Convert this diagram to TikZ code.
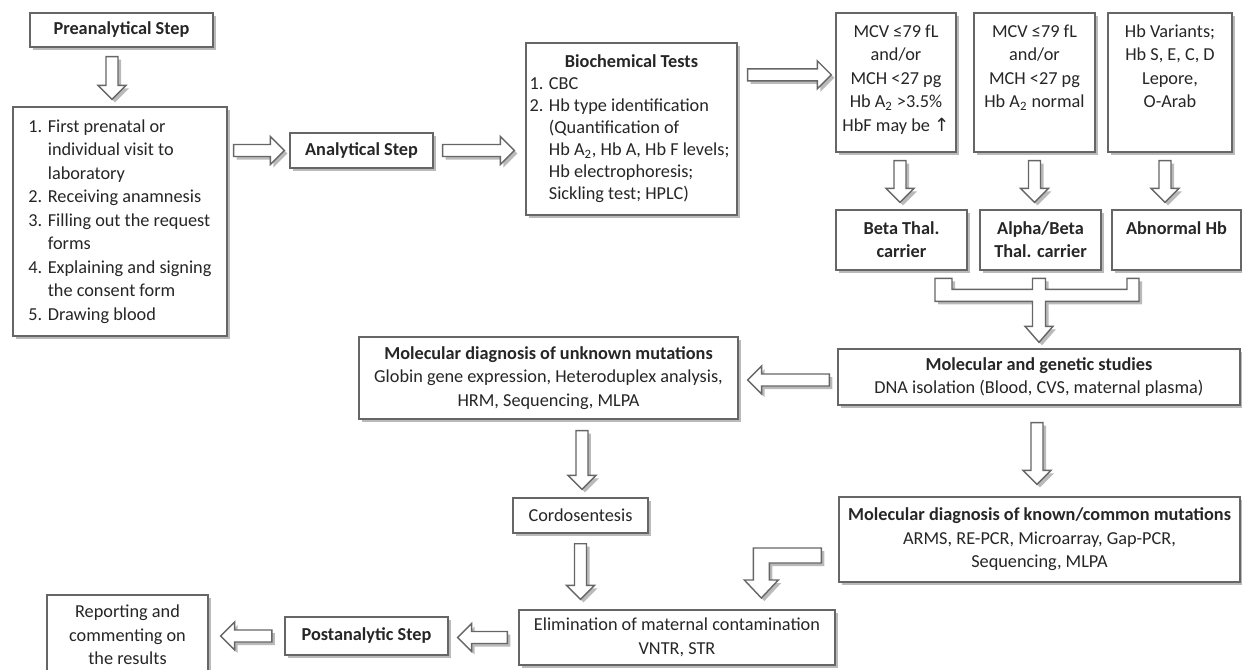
\documentclass[tikz,border=0pt]{standalone}
\usepackage{fontspec}
\setmainfont{Carlito}
\newfontfamily\symf{DejaVu Sans}
\usetikzlibrary{calc,shadows}

\begin{document}
\begin{tikzpicture}[x=0.02cm,y=-0.02cm,
  stepbox/.style={draw=black!60,line width=0.8pt,fill=white,text=black!85,inner sep=0pt,
    font=\fontsize{10.4}{13.4}\selectfont,
    drop shadow={shadow xshift=0.06cm,shadow yshift=-0.06cm,fill=black!45,opacity=0.6}},
  arrbox/.style={draw=black!60,line width=0.8pt,fill=white,
    drop shadow={shadow xshift=0.06cm,shadow yshift=-0.06cm,fill=black!45,opacity=0.6}}]

\useasboundingbox (0,0) rectangle (1242,670);
\def\arsw{0.12cm}\def\arhw{0.28cm}\def\arhl{0.28cm}
%空心箭头：从#1指向#2
\def\barrow#1#2{%
  \coordinate (bh) at ($(#2)!\arhl!(#1)$);
  \filldraw[arrbox] ($(#1)!\arsw!90:(#2)$) -- ($(bh)!\arsw!90:(#2)$) -- ($(bh)!\arhw!90:(#2)$) -- (#2)
    -- ($(bh)!\arhw!-90:(#2)$) -- ($(bh)!\arsw!-90:(#2)$) -- ($(#1)!\arsw!-90:(#2)$) -- cycle;}
%顶端对齐的文字框
\def\tb#1#2#3{\parbox[c][#2][t]{#1}{\centering\rule{0pt}{0.48cm}#3}}

%分析前步骤
\node[stepbox,minimum width=3.66cm,minimum height=0.68cm] (pre) at (121.5,30) {\textbf{Preanalytical Step}};
\node[stepbox,align=left,minimum width=4.28cm,minimum height=4.58cm] (list) at (120,221.5)
  {1. First prenatal or\\\phantom{1. }individual visit to\\\phantom{1. }laboratory\\
   2. Receiving anamnesis\\3. Filling out the request\\\phantom{3. }forms\\
   4. Explaining and signing\\\phantom{4. }the consent form\\5. Drawing blood};
%分析步骤与生化检查
\node[stepbox,minimum width=2.86cm,minimum height=0.7cm] (ana) at (361.5,150.5) {\textbf{Analytical Step}};
\node[stepbox,minimum width=4.22cm,minimum height=3.44cm,font=\fontsize{10.4}{12.5}\selectfont] (bio) at (631.5,129)
  {\parbox{4.08cm}{\centering\textbf{Biochemical Tests}\par\raggedright
   1. CBC\\
   2. Hb type identification\\
   \phantom{2. }(Quantification of\\
   \phantom{2. }Hb A\textsubscript{2}, Hb A, Hb F levels;\\
   \phantom{2. }Hb electrophoresis;\\
   \phantom{2. }Sickling test; HPLC)}};
%三种血液学结果
\node[stepbox] (mcv1) at (896,82.5) {\tb{2.4cm}{2.78cm}{MCV ≤79 fL\\and/or\\MCH <27 pg\\Hb A\textsubscript{2} >3.5\%\\HbF may be {\symf ↑}}};
\node[stepbox] (mcv2) at (1034.5,82.5) {\tb{2.42cm}{2.78cm}{MCV ≤79 fL\\and/or\\MCH <27 pg\\Hb A\textsubscript{2} normal}};
\node[stepbox] (var) at (1170,82.5) {\tb{2.48cm}{2.78cm}{Hb Variants;\\Hb S, E, C, D\\Lepore,\\O-Arab}};
%携带者类型
\node[stepbox] (beta) at (901.5,240) {\tb{2.62cm}{1.2cm}{\bfseries Beta Thal.\\carrier}};
\node[stepbox] (alpha) at (1040.5,240) {\tb{2.42cm}{1.2cm}{\bfseries Alpha/Beta\\Thal. carrier}};
\node[stepbox] (abn) at (1176.5,240) {\tb{2.58cm}{1.2cm}{\bfseries Abnormal Hb}};
%分子与遗传学研究
\node[stepbox,align=center,minimum width=8.04cm,minimum height=1.12cm] (mol) at (1039,377)
  {\textbf{Molecular and genetic studies}\\DNA isolation (Blood, CVS, maternal plasma)};
\node[stepbox,align=center,minimum width=7.58cm,minimum height=1.64cm] (unk) at (548.5,378)
  {\textbf{Molecular diagnosis of unknown mutations}\\Globin gene expression, Heteroduplex analysis,\\HRM, Sequencing, MLPA};
\node[stepbox,align=center,minimum width=8.02cm,minimum height=1.7cm] (known) at (1039.5,539.5)
  {\textbf{Molecular diagnosis of known/common mutations}\\ARMS, RE-PCR, Microarray, Gap-PCR,\\Sequencing, MLPA};
\node[stepbox,minimum width=2.7cm,minimum height=0.7cm] (cord) at (580.5,515.5) {Cordosentesis};
\node[stepbox,align=center,minimum width=6.32cm,minimum height=1.1cm] (elim) at (677,637.5)
  {Elimination of maternal contamination\\VNTR, STR};
%分析后步骤
\node[stepbox,minimum width=3.26cm,minimum height=0.76cm] (post) at (366.5,636) {\textbf{Postanalytic Step}};
\node[stepbox,align=center,minimum width=3.22cm,minimum height=1.6cm] (rep) at (127.5,635)
  {Reporting and\\commenting on\\the results};

%箭头的端点
\coordinate (a1s) at ([xshift=-0.19cm,yshift=-0.18cm]pre.south);
\coordinate (a1e) at ([yshift=0.14cm]a1s |- list.north);
\coordinate (a2s) at ([xshift=0.12cm]list.east |- ana.west);
\coordinate (a2e) at ([xshift=-0.1cm]ana.west);
\coordinate (a3s) at ([xshift=0.18cm]ana.east);
\coordinate (a3e) at ([xshift=-0.22cm]a3s -| bio.west);
\coordinate (a4s) at ([xshift=0.2cm,yshift=-0.65cm]bio.north east);
\coordinate (a4e) at ([xshift=-0.08cm]a4s -| mcv1.west);
\coordinate (a5s) at ([xshift=0.08cm,yshift=-0.16cm]mcv1.south);
\coordinate (a5e) at ([yshift=0.14cm]a5s |- beta.north);
\coordinate (a6s) at ([yshift=-0.16cm]mcv2.south);
\coordinate (a6e) at ([yshift=0.14cm]a6s |- alpha.north);
\coordinate (a7s) at ([xshift=-0.1cm,yshift=-0.16cm]var.south);
\coordinate (a7e) at ([yshift=0.14cm]a7s |- abn.north);
\coordinate (a8s) at ([xshift=-0.16cm,yshift=-0.06cm]mol.west);
\coordinate (a8e) at ([xshift=0.18cm]a8s -| unk.east);
\coordinate (a9s) at ([xshift=-0.04cm,yshift=-0.34cm]mol.south);
\coordinate (a9e) at ([yshift=0.24cm]a9s |- known.north);
\coordinate (a10s) at ([xshift=0.67cm,yshift=-0.22cm]unk.south);
\coordinate (a10e) at ([yshift=0.16cm]a10s |- cord.north);
\coordinate (a11s) at ([yshift=-0.2cm]cord.south);
\coordinate (a11e) at ([yshift=0.2cm]a11s |- elim.north);
\coordinate (a13s) at ([xshift=-0.22cm]elim.west);
\coordinate (a13e) at ([xshift=0.18cm]a13s -| post.east);
\coordinate (a14s) at ([xshift=-0.25cm]post.west);
\coordinate (a14e) at ([xshift=0.24cm]a14s -| rep.east);

%画箭头
\barrow{a1s}{a1e}
\barrow{a2s}{a2e}
\barrow{a3s}{a3e}
\barrow{a4s}{a4e}
\barrow{a5s}{a5e}
\barrow{a6s}{a6e}
\barrow{a7s}{a7e}
\barrow{a8s}{a8e}
\barrow{a9s}{a9e}
\barrow{a10s}{a10e}
\barrow{a11s}{a11e}
\barrow{a13s}{a13e}
\barrow{a14s}{a14e}

%三个携带者框汇合到分子研究
\begin{scope}[shift={(mol.north)}]
  \filldraw[arrbox] (-104,-70) -- (-87,-70) -- (-87,-59) -- (-6.5,-59) -- (-6.5,-70) -- (6.5,-70)
    -- (6.5,-59) -- (88,-59) -- (88,-70) -- (100,-70) -- (100,-47) -- (6.5,-47) -- (6.5,-22)
    -- (14,-22) -- (0,-6) -- (-14,-22) -- (-6.5,-22) -- (-6.5,-47) -- (-104,-47) -- cycle;
\end{scope}
%已知突变到消除母体污染的折线箭头
\begin{scope}[shift={(known.west)}]
  \filldraw[arrbox] (-17,8.5) -- (-85,8.5) -- (-85,40.5) -- (-94,40.5) -- (-77,58.5) -- (-60,40.5)
    -- (-69,40.5) -- (-69,23.5) -- (-17,23.5) -- cycle;
\end{scope}

\end{tikzpicture}
\end{document}
